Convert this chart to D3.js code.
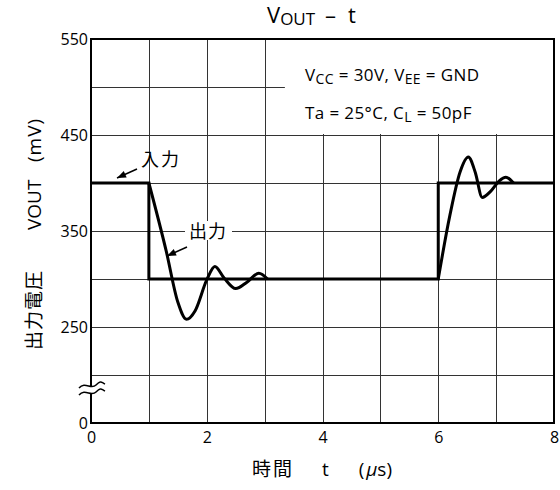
<!DOCTYPE html>
<html><head><meta charset="utf-8">
<script src="https://cdn.jsdelivr.net/npm/d3@7"></script>
<style>
body{margin:0;background:#fff;}
svg{display:block;}
text{font-family:"Open Sans","Noto Sans CJK JP",sans-serif;fill:#000;}
</style></head>
<body>
<svg id="c" width="560" height="490"></svg>
<script>
// ---- data ----
const xTickValues = [0, 2, 4, 6, 8];
const xTickLabels = ["0", "2", "4", "6", "8"];
const yTickValues = [150, 250, 350, 450, 550];   // 150 is the broken-axis position labelled "0"
const yTickLabels = ["0", "250", "350", "450", "550"];
const xGrid = [1, 2, 3, 4, 5, 6, 7];
const yGrid = [200, 250, 300, 350, 400, 450, 500];

const inputT = [0, 1, 1, 6, 6, 8];
const inputV = [400, 400, 300, 300, 400, 400];

const outFallT = [1.0, 1.3, 1.5, 1.65, 1.8, 2.0, 2.14, 2.3, 2.5, 2.7, 2.9, 3.05];
const outFallV = [400, 329, 276, 258, 267, 299, 313, 301, 290, 297, 306, 300];

const outRiseT = [6.0, 6.2, 6.38, 6.52, 6.64, 6.76, 6.9, 7.05, 7.17, 7.3];
const outRiseV = [300, 366, 412, 427, 411, 385, 391, 402, 406, 400];

// ---- layout ----
const L = 91, R = 554, T = 39, B = 423;
const svg = d3.select("#c");
const x = d3.scaleLinear().domain([0, 8]).range([L, R]);
const y = d3.scaleLinear().domain([150, 550]).range([B, T]);
const px = v => Math.round(v) + 0.5;

// grid
const g = svg.append("g");
g.selectAll(".gx").data(xGrid).enter().append("line")
  .attr("x1", d => px(x(d))).attr("x2", d => px(x(d))).attr("y1", T).attr("y2", B)
  .attr("stroke", "#333").attr("stroke-width", 1);
g.selectAll(".gy").data(yGrid).enter().append("line")
  .attr("x1", L).attr("x2", R).attr("y1", d => px(y(d))).attr("y2", d => px(y(d)))
  .attr("stroke", "#333").attr("stroke-width", 1);

// white box for conditions
svg.append("rect").attr("x", x(3.35)).attr("y", T).attr("width", R - x(3.35)).attr("height", y(450) - T - 1)
  .attr("fill", "#fff");

// frame
svg.append("rect").attr("x", L).attr("y", T).attr("width", R - L).attr("height", B - T)
  .attr("fill", "none").attr("stroke", "#000").attr("stroke-width", 2);

// axis break on left
svg.append("rect").attr("x", L - 3).attr("y", 386).attr("width", 6).attr("height", 8).attr("fill", "#fff");
[385, 392].forEach(yy => {
  svg.append("path")
    .attr("d", `M${L-12},${yy+3} C${L-6},${yy-4} ${L},${yy+5} ${L+5},${yy} S${L+10},${yy-3} ${L+14},${yy-1}`)
    .attr("fill", "none").attr("stroke", "#000").attr("stroke-width", 1.5);
});

// axes labels via d3 axes
const xAxis = d3.axisBottom(x).tickValues(xTickValues).tickFormat((d, i) => xTickLabels[i]).tickSize(0).tickPadding(9);
const xa = svg.append("g").attr("transform", `translate(0,${B})`).call(xAxis);
xa.select(".domain").remove();
xa.selectAll("text").attr("font-size", 16).attr("font-family", "Open Sans");

const yAxis = d3.axisLeft(y).tickValues(yTickValues).tickFormat((d, i) => yTickLabels[i]).tickSize(0).tickPadding(3);
const ya = svg.append("g").attr("transform", `translate(${L},0)`).call(yAxis);
ya.select(".domain").remove();
ya.selectAll("text").attr("font-size", 16).attr("font-family", "Open Sans").attr("dy", "0.35em");

// lines
const line = d3.line().x(d => x(d[0])).y(d => y(d[1]));
const smooth = d3.line().x(d => x(d[0])).y(d => y(d[1])).curve(d3.curveMonotoneX);
svg.append("path").datum(inputT.map((t, i) => [t, inputV[i]])).attr("d", line)
  .attr("fill", "none").attr("stroke", "#000").attr("stroke-width", 3);
svg.append("path").datum(outFallT.map((t, i) => [t, outFallV[i]])).attr("d", smooth)
  .attr("fill", "none").attr("stroke", "#000").attr("stroke-width", 3);
svg.append("path").datum(outRiseT.map((t, i) => [t, outRiseV[i]])).attr("d", smooth)
  .attr("fill", "none").attr("stroke", "#000").attr("stroke-width", 3);

// annotations
function arrow(x1, y1, x2, y2) {
  svg.append("line").attr("x1", x1).attr("y1", y1).attr("x2", x2).attr("y2", y2)
    .attr("stroke", "#000").attr("stroke-width", 1.5);
  const a = Math.atan2(y2 - y1, x2 - x1), len = 9, w = 3.5;
  const bx = x2 - len * Math.cos(a), by = y2 - len * Math.sin(a);
  const ppx = -Math.sin(a) * w, ppy = Math.cos(a) * w;
  svg.append("path").attr("d", `M${x2},${y2}L${bx+ppx},${by+ppy}L${bx-ppx},${by-ppy}Z`).attr("fill", "#000");
}
svg.append("text").attr("x", 141).attr("y", 166).attr("font-size", 18).attr("letter-spacing", 2)
  .attr("font-family", "Noto Sans CJK JP").text("入力");
arrow(137, 169, 117, 178);

svg.append("rect").attr("x", 185).attr("y", 221).attr("width", 47).attr("height", 19).attr("fill", "#fff");
svg.append("text").attr("x", 189).attr("y", 238).attr("font-size", 18).attr("letter-spacing", 1)
  .attr("font-family", "Noto Sans CJK JP").text("出力");
arrow(187, 247, 167, 256);

// conditions text
const c1 = svg.append("text").attr("x", 305).attr("y", 81).attr("font-size", 17).attr("letter-spacing", 0.4);
c1.append("tspan").text("V");
c1.append("tspan").attr("font-size", 14).attr("dy", 3).text("CC");
c1.append("tspan").attr("dy", -3).text(" = 30V,  V");
c1.append("tspan").attr("font-size", 14).attr("dy", 3).text("EE");
c1.append("tspan").attr("dy", -3).text(" = GND");
const c2 = svg.append("text").attr("x", 305).attr("y", 119).attr("font-size", 17).attr("letter-spacing", 0.4);
c2.append("tspan").text("Ta = 25°C,  C");
c2.append("tspan").attr("font-size", 14).attr("dy", 3).text("L");
c2.append("tspan").attr("dy", -3).text(" = 50pF");

// title
const tt = svg.append("text").attr("x", 267).attr("y", 23).attr("font-size", 22);
tt.append("tspan").text("V");
tt.append("tspan").attr("font-size", 17).attr("dy", 2).text("OUT");
tt.append("tspan").attr("dy", -2).attr("dx", 10).text("–");
tt.append("tspan").attr("dx", 12).text("t");

// axis titles
const xt = svg.append("text").attr("x", 322).attr("y", 476).attr("text-anchor", "middle").attr("font-size", 19)
  .attr("font-family", "Noto Sans CJK JP");
xt.append("tspan").attr("letter-spacing", 2).text("時間　 t　 (");
xt.append("tspan").attr("font-style", "italic").text("μ");
xt.append("tspan").text("s)");

const yt = svg.append("text").attr("transform", "translate(41,350) rotate(-90)")
  .attr("font-size", 19).attr("font-family", "Noto Sans CJK JP");
yt.append("tspan").attr("x", 0).attr("letter-spacing", 1).text("出力電圧");
yt.append("tspan").attr("x", 120).attr("font-family", "Open Sans").text("VOUT");
yt.append("tspan").attr("x", 188).attr("font-family", "Open Sans").attr("letter-spacing", 1).text("(mV)");
</script>
</body></html>
